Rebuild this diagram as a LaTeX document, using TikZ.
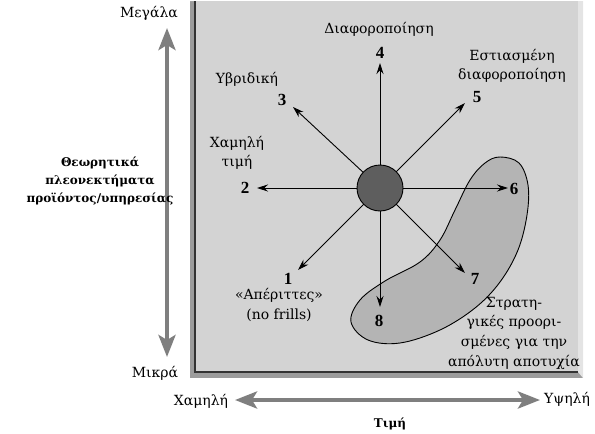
\documentclass[tikz,border=0pt]{standalone}
\usepackage{fontspec}
\setmainfont{DejaVu Serif}
\newfontfamily\numfont{Liberation Serif}
\usetikzlibrary{arrows.meta}
\definecolor{panelgray}{HTML}{D3D3D3}
\definecolor{framedark}{HTML}{9C9C9C}
\definecolor{framelight}{HTML}{E4E4E4}
\definecolor{blobgray}{HTML}{B4B4B4}
\definecolor{axisgray}{HTML}{7F7F7F}
\definecolor{circgray}{HTML}{5E5E5E}
\begin{document}
\begin{tikzpicture}[x=1pt,y=-1pt,
  lbl/.style={font=\fontsize{14}{19.7}\selectfont, align=center, inner sep=0pt},
  num/.style={font=\numfont\bfseries\fontsize{17}{17}\selectfont, inner sep=0pt},
  ttl/.style={font=\bfseries\fontsize{12}{18}\selectfont, align=center, inner sep=0pt},
  ray/.style={line width=0.9pt, -{Stealth[length=11pt,width=7pt]}},
  axisarrow/.style={line width=4pt, draw=axisgray,
     {Stealth[length=22pt,width=17pt,inset=5pt]}-{Stealth[length=22pt,width=17pt,inset=5pt]}}]
\useasboundingbox (0,0) rectangle (595,434);
% frame
\fill[framedark] (190,1) rectangle (583,378);
\fill[framelight] (190,1) -- (583,1) -- (583,378) -- (578,372) -- (578,1) -- cycle;
\fill[panelgray] (195,1) rectangle (578,372);
\draw[line width=1.2pt, black!80] (195,1) -- (195,372) -- (578,372);
% blob
\draw[line width=0.9pt, fill=blobgray] plot[smooth cycle, tension=0.6] coordinates {
  (500,157) (519,163) (528,185) (527,215) (518,250) (500,282) (475,308)
  (440,330) (400,343) (368,340) (351,322) (360,300) (385,281) (420,262)
  (440,240) (455,210) (470,180) (485,163)};
% center
\coordinate (c) at (380,188);
\coordinate (t1) at (298,270);
\coordinate (t2) at (257,188);
\coordinate (t3) at (293,107);
\coordinate (t4) at (380,63);
\coordinate (t5) at (465,103);
\coordinate (t6) at (508,188);
\coordinate (t7) at (465,273);
\coordinate (t8) at (380,307);
\foreach \t in {t1,t2,t3,t4,t5,t6,t7,t8} \draw[ray] (c) -- (\t);
\node[circle, minimum size=46pt, inner sep=0pt, fill=circgray, draw=black, line width=0.9pt] (hub) at (c) {};
% numbers
\node[num] (n1) at (288,279) {1};
\node[num] (n2) at (245,188) {2};
\node[num] (n3) at (282,100) {3};
\node[num] (n4) at (380,53) {4};
\node[num] (n5) at (477,97) {5};
\node[num] (n6) at (514,189) {6};
\node[num] (n7) at (475,279) {7};
\node[num] (n8) at (379,321) {8};
% labels
\node[lbl] (l4) at (379,29) {Διαφοροποίηση};
\node[lbl] (l3) at (247,79) {Υβριδική};
\node[lbl] (l5) at (512,66) {Εστιασμένη\\διαφοροποίηση};
\node[lbl] (l2) at (237,153) {Χαμηλή\\τιμή};
\node[lbl] (l1) at (279,305) {«Απέριττες»\\(no frills)};
\node[lbl] (lf) at (514,333) {Στρατη-\\γικές προορι-\\σμένες για την\\απόλυτη αποτυχία};
% axes
\coordinate (vtop) at (167,28);
\coordinate (vbot) at (167,357);
\draw[axisarrow] (vbot) -- (vtop);
\coordinate (hl) at (235,400);
\coordinate (hr) at (540,400);
\draw[axisarrow] (hl) -- (hr);
\node[lbl] (big) at (149,13) {Μεγάλα};
\node[lbl] (small) at (155,373) {Μικρά};
\node[lbl] (low) at (201,401) {Χαμηλή};
\node[lbl] (high) at (567,399) {Υψηλή};
\node[ttl] (price) at (390,424) {Τιμή};
\node[ttl] (adv) at (100,181) {Θεωρητικά\\πλεονεκτήματα\\προϊόντος/υπηρεσίας};
\end{tikzpicture}
\end{document}
